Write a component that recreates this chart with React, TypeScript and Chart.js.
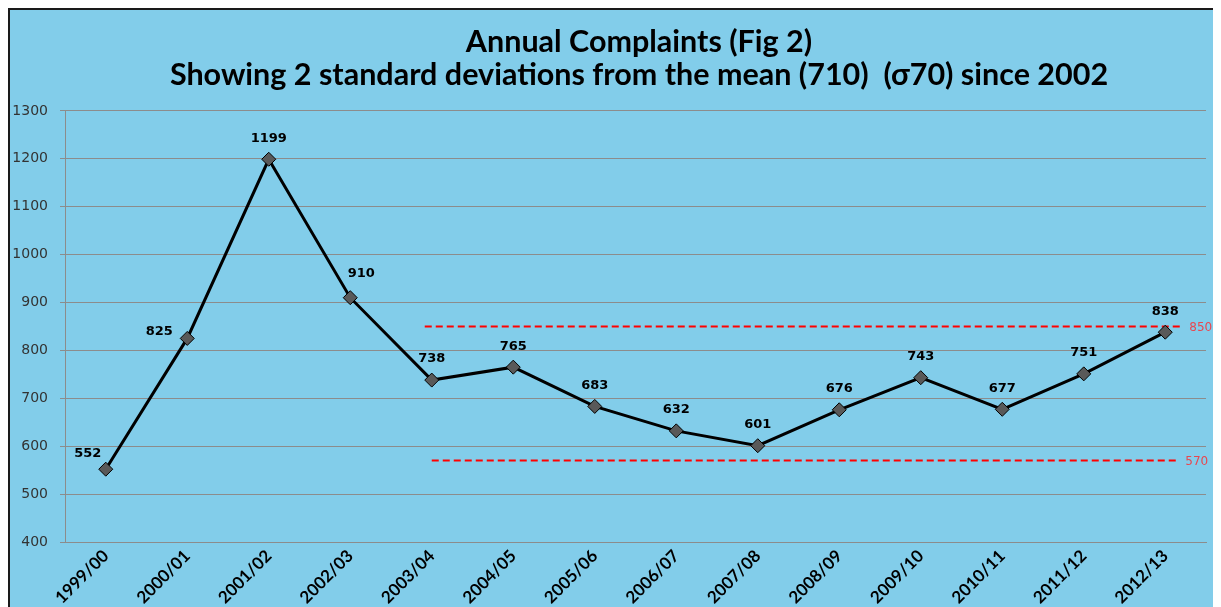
import React, { useEffect, useRef } from "react";
import { Chart, registerables } from "chart.js";

Chart.register(...registerables);

const categories = [
  "1999/00", "2000/01", "2001/02", "2002/03", "2003/04", "2004/05", "2005/06",
  "2006/07", "2007/08", "2008/09", "2009/10", "2010/11", "2011/12", "2012/13",
];
const complaints = [552, 825, 1199, 910, 738, 765, 683, 632, 601, 676, 743, 677, 751, 838];
const upperLimit = 850;
const lowerLimit = 570;
const limitStartIndex = 4;
const yMin = 400;
const yMax = 1300;
const yStep = 100;
const titleLines = [
  "Annual Complaints (Fig 2)",
  "Showing 2 standard deviations from the mean (710)  (\u03c370) since 2002",
];

// label placement tweaks (pixels), styling only
const labelShift: Record<number, [number, number]> = {
  0: [-18, 5],
  1: [-28, 14],
  3: [11, -3],
};

const limitPlugin = {
  id: "limits",
  afterLayout(chart: any) {
    const t = chart.titleBlock;
    if (t) {
      t.left += 30;
      t.right += 30;
    }
  },
  beforeDatasetsDraw(chart: any) {
    const { ctx, scales } = chart;
    const x = scales.x;
    const y = scales.y;
    const lines: [number, number, number][] = [
      [upperLimit, -7, 17],
      [lowerLimit, 0, 13],
    ];
    ctx.save();
    for (const [v, s, e] of lines) {
      const py = y.getPixelForValue(v);
      const x0 = x.getPixelForValue(limitStartIndex) + s;
      const x1 = x.getPixelForValue(categories.length - 1) + e;
      ctx.strokeStyle = "#ff0000";
      ctx.lineWidth = 2;
      ctx.setLineDash([7, 4]);
      ctx.beginPath();
      ctx.moveTo(x0, py);
      ctx.lineTo(x1, py);
      ctx.stroke();
      ctx.setLineDash([]);
      ctx.fillStyle = "#e8474f";
      ctx.font = "12px 'DejaVu Sans'";
      ctx.textAlign = "left";
      ctx.textBaseline = "middle";
      ctx.fillText(String(v), x1 + 7, py + 1);
    }
    ctx.restore();
  },
};

const labelPlugin = {
  id: "pointLabels",
  afterDatasetsDraw(chart: any) {
    const { ctx } = chart;
    const meta = chart.getDatasetMeta(0);
    ctx.save();
    ctx.font = "bold 13px 'DejaVu Sans'";
    ctx.fillStyle = "#000";
    ctx.textAlign = "center";
    ctx.textBaseline = "middle";
    meta.data.forEach((pt: any, i: number) => {
      const [dx, dy] = labelShift[i] || [0, 0];
      ctx.fillText(String(complaints[i]), pt.x + dx, pt.y - 21 + dy);
    });
    ctx.restore();
  },
};

export default function App() {
  const ref = useRef<HTMLCanvasElement>(null);
  useEffect(() => {
    if (!ref.current) return;
    const chart = new Chart(ref.current, {
      type: "line",
      data: {
        labels: categories,
        datasets: [
          {
            data: complaints,
            borderColor: "#000",
            borderWidth: 3,
            pointStyle: "rectRot",
            pointRadius: 7,
            pointBackgroundColor: "#595959",
            pointBorderColor: "#000",
            pointBorderWidth: 1,
            tension: 0,
          },
        ],
      },
      options: {
        animation: false,
        responsive: true,
        maintainAspectRatio: false,
        layout: { padding: { left: 2, right: 15, top: 0, bottom: 0 } },
        plugins: {
          legend: { display: false },
          tooltip: { enabled: false },
          title: {
            display: true,
            text: titleLines,
            color: "#000",
            font: { family: "Lato", weight: "bold", size: 30.5, lineHeight: 1.08 },
            padding: { top: 16, bottom: 19 },
          },
        },
        scales: {
          x: {
            offset: true,
            grid: { display: false, drawTicks: false },
            border: { color: "#8c8c8c", width: 1 },
            ticks: {
              color: "#000",
              font: { family: "Lato", weight: "bold", size: 17 },
              minRotation: 45,
              maxRotation: 45,
              padding: 4,
            },
            afterFit: (scale: any) => {
              scale.paddingLeft = 0;
              scale.paddingRight = 0;
              scale.height = 65;
            },
          },
          y: {
            min: yMin,
            max: yMax,
            grid: { color: "#8c8c8c", lineWidth: 1, tickLength: 5 },
            border: { color: "#8c8c8c", width: 1 },
            ticks: {
              stepSize: yStep,
              color: "#333",
              font: { family: "DejaVu Sans", size: 14 },
              padding: 12,
              callback: (v: any) => String(v),
            },
            afterFit: (scale: any) => {
              scale.width = 53;
            },
          },
        },
      },
      plugins: [limitPlugin, labelPlugin],
    });
    return () => chart.destroy();
  }, []);
  return (
    <div
      style={{
        width: 1213,
        height: 599,
        boxSizing: "border-box",
        borderTop: "2px solid #1a1a1a",
        borderLeft: "2px solid #1a1a1a",
        background: "#82cdea",
      }}
    >
      <div style={{ position: "relative", width: "100%", height: "100%" }}>
        <canvas ref={ref} />
      </div>
    </div>
  );
}
